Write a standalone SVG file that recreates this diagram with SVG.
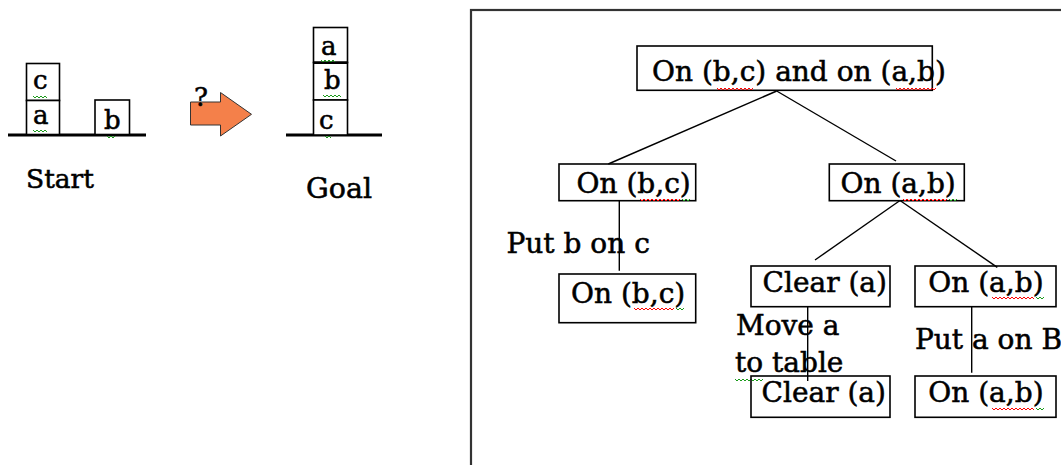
<svg xmlns="http://www.w3.org/2000/svg" width="1061" height="465" viewBox="0 0 1061 465">
<style>
  text { font-family: "DejaVu Serif", "Liberation Serif", serif; fill: #000; stroke: #000; stroke-width: 0.55; }
  .t28 { font-size: 28px; }
  .blk { font-size: 26px; }
  .box { fill: none; stroke: #000; stroke-width: 1.6; }
  .block { fill: #fff; stroke: #000; stroke-width: 1.6; }
  .ground { stroke: #000; stroke-width: 3; }
  .edge { stroke: #000; stroke-width: 1.4; fill: none; }
  .sqr { fill: none; stroke: #f00; stroke-width: 1; }
  .sqg { fill: none; stroke: #1a9a1a; stroke-width: 1; }
</style>
<rect width="1061" height="465" fill="#fff"/>

<!-- Left: blocks world -->
<g id="start">
  <line class="ground" x1="8" y1="135" x2="146" y2="135"/>
  <rect class="block" x="26.5" y="63.5" width="33" height="37"/>
  <rect class="block" x="26.5" y="100.5" width="33" height="34"/>
  <rect class="block" x="95" y="100" width="34.5" height="34.5"/>
  <text class="blk" x="33" y="88.5">c</text>
  <text class="blk" x="33" y="123.5">a</text>
  <text class="blk" x="104" y="128.5">b</text>
  <path class="sqg" d="M33 96 l2 2 2 -2 2 2 2 -2 2 2 2 -2 2 2"/>
  <path class="sqg" d="M33 130 l2 2 2 -2 2 2 2 -2 2 2 2 -2 2 2"/>
  <path class="sqg" d="M107 136 l2 2 2 -2 2 2 2 -2"/>
  <text x="26" y="188" style="font-size:26.5px">Start</text>
</g>

<g id="arrow">
  <polygon points="190.5,102 220.5,102 220.5,92.5 251.5,114.3 220.5,136 220.5,125 190.5,125" fill="#f4804a" stroke="#333" stroke-width="1"/>
  <text x="194" y="106" style="font-size:26px">?</text>
</g>

<g id="goal">
  <line class="ground" x1="286" y1="135" x2="382" y2="135"/>
  <rect class="block" x="313.5" y="27.5" width="34" height="35"/>
  <rect class="block" x="313.5" y="62.5" width="34" height="37.5"/>
  <rect class="block" x="313.5" y="100" width="34" height="35"/>
  <line x1="313.5" y1="62.7" x2="347.5" y2="62.7" stroke="#000" stroke-width="2.6"/>
  <text class="blk" x="321" y="54.5">a</text>
  <text class="blk" x="324" y="88.5">b</text>
  <text class="blk" x="319" y="128.5">c</text>
  <path class="sqg" d="M321 60 l2 2 2 -2 2 2 2 -2 2 2 2 -2 2 2"/>
  <path class="sqg" d="M323 95 l2 2 2 -2 2 2 2 -2 2 2 2 -2 2 2 2 -2 2 2"/>
  <path class="sqg" d="M325 136 l2 2 2 -2 2 2"/>
  <text x="306" y="198" style="font-size:28.5px">Goal</text>
</g>

<!-- Right: goal tree -->
<rect id="frame" x="471" y="10" width="620" height="480" fill="none" stroke="#333" stroke-width="2.2"/>

<g id="edge-labels" class="t28">
  <text x="506.5" y="252.5">Put b on c</text>
  <text x="736" y="335">Move a</text>
  <text x="735" y="371.5">to table</text>
  <text x="915" y="349">Put a on B</text>
  <path class="sqg" d="M735 379 l2 2 2 -2 2 2 2 -2 2 2 2 -2 2 2 2 -2 2 2 2 -2 2 2 2 -2 2 2 2 -2"/>
</g>

<g id="node-root">
  <text class="t28" x="652" y="81">On (b,c) and on (a,b)</text>
  <rect class="box" x="637" y="46" width="295.3" height="44.3"/>
  <path class="sqr" d="M717 88 l2 2 2 -2 2 2 2 -2 2 2 2 -2 2 2 2 -2 2 2 2 -2 2 2 2 -2 2 2 2 -2 2 2 2 -2 2 2 2 -2"/>
  <path class="sqr" d="M896 88 l2 2 2 -2 2 2 2 -2 2 2 2 -2 2 2 2 -2 2 2 2 -2 2 2 2 -2 2 2 2 -2 2 2 2 -2 2 2 2 -2 2 2 2 -2"/>
</g>

<g id="node-onbc-1">
  <text class="t28" x="576.5" y="192.5">On (b,c)</text>
  <rect class="box" x="559" y="164" width="136.7" height="36.7"/>
  <path class="sqr" d="M640 199 l2 2 2 -2 2 2 2 -2 2 2 2 -2 2 2 2 -2 2 2 2 -2 2 2 2 -2 2 2 2 -2 2 2 2 -2 2 2 2 -2 2 2 2 -2"/>
  <path class="sqg" d="M682 199 l2 2 2 -2 2 2 2 -2"/>
</g>

<g id="node-onbc-2">
  <text class="t28" x="571" y="303">On (b,c)</text>
  <rect class="box" x="559" y="274" width="136.7" height="48.7"/>
  <path class="sqr" d="M634 308 l2 2 2 -2 2 2 2 -2 2 2 2 -2 2 2 2 -2 2 2 2 -2 2 2 2 -2 2 2 2 -2 2 2 2 -2 2 2 2 -2 2 2 2 -2"/>
  <path class="sqg" d="M676 308 l2 2 2 -2 2 2 2 -2"/>
</g>

<g id="node-onab-1">
  <text class="t28" x="840.5" y="192.5">On (a,b)</text>
  <rect class="box" x="829.3" y="164" width="135" height="36.7"/>
  <path class="sqr" d="M903 199 l2 2 2 -2 2 2 2 -2 2 2 2 -2 2 2 2 -2 2 2 2 -2 2 2 2 -2 2 2 2 -2 2 2 2 -2 2 2 2 -2 2 2 2 -2 2 2 2 -2"/>
  <path class="sqg" d="M949 199 l2 2 2 -2 2 2 2 -2"/>
</g>

<g id="node-clear-1">
  <text class="t28" x="762.5" y="291.5">Clear (a)</text>
  <rect class="box" x="751" y="266" width="139" height="40.7"/>
</g>

<g id="node-onab-2">
  <text class="t28" x="928.3" y="291.5">On (a,b)</text>
  <rect class="box" x="915" y="266" width="141" height="40.7"/>
  <path class="sqr" d="M992 297 l2 2 2 -2 2 2 2 -2 2 2 2 -2 2 2 2 -2 2 2 2 -2 2 2 2 -2 2 2 2 -2 2 2 2 -2 2 2 2 -2 2 2 2 -2 2 2"/>
  <path class="sqg" d="M1036 297 l2 2 2 -2 2 2 2 -2"/>
</g>

<g id="node-clear-2">
  <text class="t28" x="761.5" y="401.5">Clear (a)</text>
  <rect class="box" x="751" y="376" width="139" height="41.3"/>
</g>

<g id="node-onab-3">
  <text class="t28" x="928.3" y="401.5">On (a,b)</text>
  <rect class="box" x="915" y="376" width="141" height="41.3"/>
  <path class="sqr" d="M992 408 l2 2 2 -2 2 2 2 -2 2 2 2 -2 2 2 2 -2 2 2 2 -2 2 2 2 -2 2 2 2 -2 2 2 2 -2 2 2 2 -2 2 2 2 -2 2 2"/>
  <path class="sqg" d="M1036 408 l2 2 2 -2 2 2 2 -2"/>
</g>

<g id="connectors" class="edge">
  <line x1="776.7" y1="91" x2="608.3" y2="164"/>
  <line x1="776.7" y1="91" x2="896" y2="161"/>
  <line x1="619.3" y1="200.7" x2="619.3" y2="270.7"/>
  <line x1="900" y1="200.5" x2="815" y2="260"/>
  <line x1="900" y1="200.5" x2="997.3" y2="267.3"/>
  <line x1="807.7" y1="306.7" x2="807.7" y2="381"/>
  <line x1="971.7" y1="306.7" x2="971.7" y2="372.7"/>
</g>
</svg>
